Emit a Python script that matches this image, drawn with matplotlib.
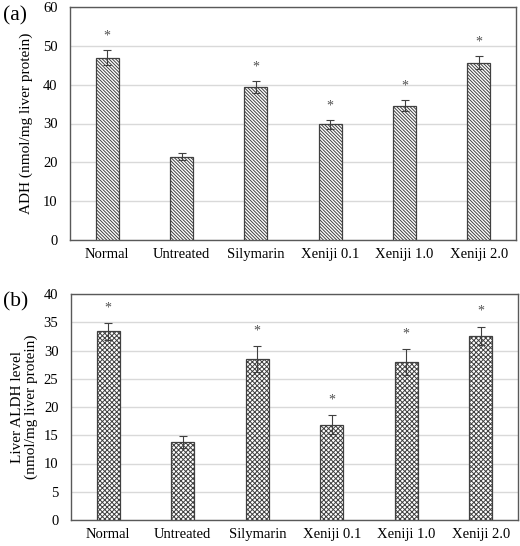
import matplotlib
matplotlib.use("Agg")
import matplotlib.pyplot as plt
import numpy as np

categories = ["Normal", "Untreated", "Silymarin", "Xeniji 0.1", "Xeniji 1.0", "Xeniji 2.0"]
adh_values = [46.9, 21.4, 39.4, 29.8, 34.6, 45.7]
adh_errors = [1.9, 0.9, 1.6, 1.2, 1.5, 1.7]
adh_sig = [True, False, True, True, True, True]
aldh_values = [33.4, 13.8, 28.5, 16.9, 27.9, 32.6]
aldh_errors = [1.5, 1.0, 2.3, 1.6, 2.3, 1.6]
aldh_sig = [True, False, True, True, True, True]

plt.rcParams['font.family'] = ['Liberation Serif', 'DejaVu Serif']
plt.rcParams['hatch.linewidth'] = 0.7
plt.rcParams['hatch.color'] = '#404040'

fig = plt.figure(figsize=(5.2, 5.46), dpi=100)
W, H = 520, 546
ax1 = fig.add_axes([70 / W, 1 - 240 / H, 446 / W, 233 / H])
ax2 = fig.add_axes([71 / W, 1 - 520 / H, 447 / W, 226 / H])

def draw(ax, vals, errs, sig, hatch, ylim, step, star_off):
    x = np.arange(len(categories))
    ax.bar(x, vals, width=0.31, color='white', edgecolor='#404040', linewidth=0.9,
           hatch=hatch, zorder=3)
    ax.errorbar(x, vals, yerr=errs, fmt='none', ecolor='#404040', elinewidth=0.8,
                capsize=3, capthick=0.8, zorder=4)
    for xi, v, e, s in zip(x, vals, errs, sig):
        if s:
            ax.text(xi, v + e + star_off, '*', ha='center', va='center',
                    fontsize=10, color='#505050', zorder=5)
    ax.set_xlim(-0.5, len(categories) - 0.5)
    ax.set_ylim(*ylim)
    ax.set_yticks(np.arange(ylim[0], ylim[1] + 0.1, step))
    ax.set_xticks(x)
    ax.set_xticklabels(categories, fontsize=10.5)
    ax.tick_params(axis='y', labelsize=10.5, length=0, pad=9)
    ax.tick_params(axis='x', length=0, pad=6)
    ax.yaxis.grid(True, color='#d9d9d9', linewidth=1.0, zorder=0)
    ax.set_axisbelow(True)
    for sp in ax.spines.values():
        sp.set_color('#595959')
        sp.set_linewidth(1.0)

draw(ax1, adh_values, adh_errors, adh_sig, '\\' * 10, (0, 60), 10, 3.6)
draw(ax2, aldh_values, aldh_errors, aldh_sig, 'x' * 7, (0, 40), 5, 2.7)

ax1.set_ylabel("ADH (nmol/mg liver protein)", fontsize=11, labelpad=7)
ax2.set_ylabel("Liver ALDH level\n(nmol/mg liver protein)", fontsize=11, labelpad=4,
               linespacing=1.05)

fig.text(3 / W, 1 - 16 / H, "(a)", fontsize=15.5, va='center', ha='left')
fig.text(3 / W, 1 - 302 / H, "(b)", fontsize=15.5, va='center', ha='left')

fig.savefig("out.png", dpi=100)
